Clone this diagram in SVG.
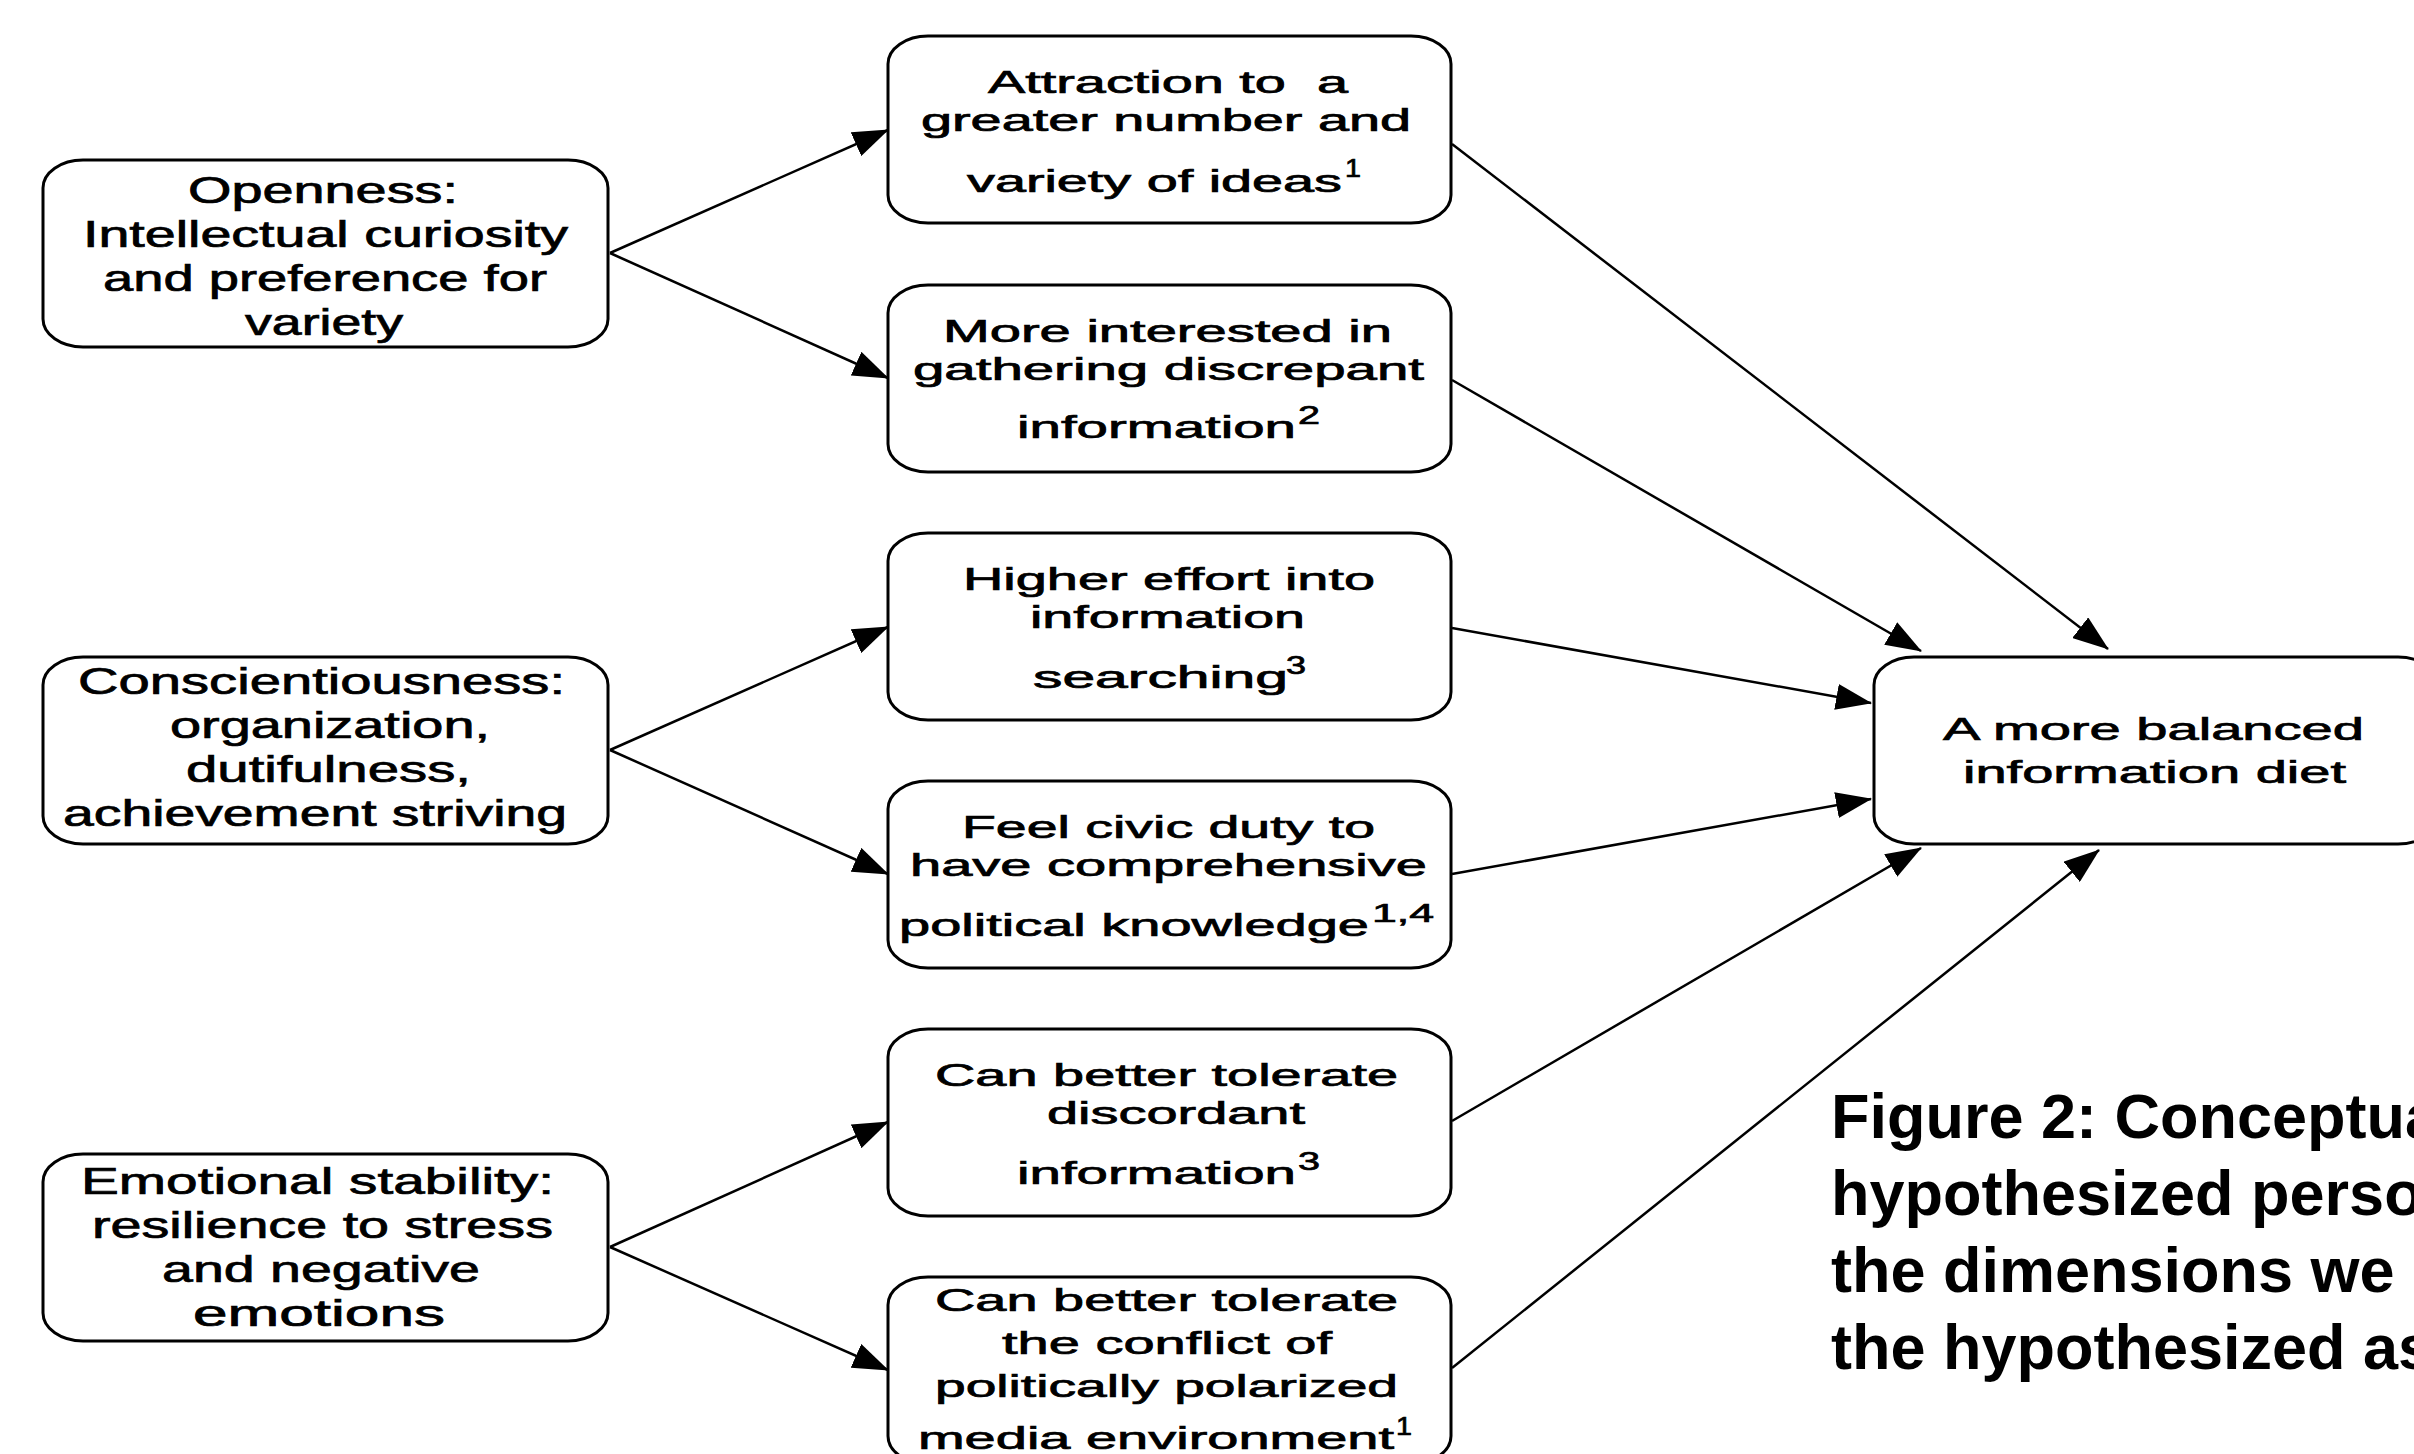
<svg xmlns="http://www.w3.org/2000/svg" width="2414" height="1454" viewBox="0 0 2414 1454">
<style>
.box{fill:#fff;stroke:#000;stroke-width:3}
.t{font-family:"Liberation Sans",Arial,Helvetica,sans-serif;fill:#000;stroke:#000;stroke-width:0.7px}
.l{font-size:36px}
.m{font-size:31px}
.s{font-size:25px}
.cap{font-family:"Liberation Sans",Arial,Helvetica,sans-serif;font-weight:bold;font-size:63px;fill:#000}
.edge{stroke:#000;stroke-width:2.5;fill:none;marker-end:url(#ah)}
</style>
<defs>
<marker id="ah" markerUnits="userSpaceOnUse" markerWidth="36" markerHeight="26" refX="35" refY="13" orient="auto">
<path d="M0,0 L36,13 L0,26 z" fill="#000"/>
</marker>
</defs>
<rect width="2414" height="1454" fill="#fff"/>

<g id="openness">
<rect class="box" x="43" y="160" width="565" height="187" rx="40" ry="28"/>
<text class="t l" x="188" y="203" textLength="270" lengthAdjust="spacingAndGlyphs">Openness:</text>
<text class="t l" x="83" y="247" textLength="485" lengthAdjust="spacingAndGlyphs">Intellectual curiosity</text>
<text class="t l" x="103" y="291" textLength="444" lengthAdjust="spacingAndGlyphs">and preference for</text>
<text class="t l" x="245" y="335" textLength="158" lengthAdjust="spacingAndGlyphs">variety</text>
</g>

<g id="conscientiousness">
<rect class="box" x="43" y="657" width="565" height="187" rx="40" ry="28"/>
<text class="t l" x="78" y="694" textLength="487" lengthAdjust="spacingAndGlyphs">Conscientiousness:</text>
<text class="t l" x="170" y="738" textLength="320" lengthAdjust="spacingAndGlyphs">organization,</text>
<text class="t l" x="186" y="782" textLength="285" lengthAdjust="spacingAndGlyphs">dutifulness,</text>
<text class="t l" x="63" y="826" textLength="504" lengthAdjust="spacingAndGlyphs">achievement striving</text>
</g>

<g id="emotional">
<rect class="box" x="43" y="1154" width="565" height="187" rx="40" ry="28"/>
<text class="t l" x="81" y="1194" textLength="473" lengthAdjust="spacingAndGlyphs">Emotional stability:</text>
<text class="t l" x="92" y="1238" textLength="461" lengthAdjust="spacingAndGlyphs">resilience to stress</text>
<text class="t l" x="162" y="1282" textLength="318" lengthAdjust="spacingAndGlyphs">and negative</text>
<text class="t l" x="193" y="1326" textLength="252" lengthAdjust="spacingAndGlyphs">emotions</text>
</g>

<g id="attraction">
<rect class="box" x="888" y="36" width="563" height="187" rx="40" ry="28"/>
<text class="t m" x="988" y="93" textLength="360" lengthAdjust="spacingAndGlyphs" xml:space="preserve">Attraction to  a</text>
<text class="t m" x="921" y="131" textLength="490" lengthAdjust="spacingAndGlyphs">greater number and</text>
<text class="t m" x="967" y="192" textLength="375" lengthAdjust="spacingAndGlyphs">variety of ideas</text>
<text class="t s" x="1345" y="177" textLength="16" lengthAdjust="spacingAndGlyphs">1</text>
</g>

<g id="discrepant">
<rect class="box" x="888" y="285" width="563" height="187" rx="40" ry="28"/>
<text class="t m" x="943" y="342" textLength="449" lengthAdjust="spacingAndGlyphs">More interested in</text>
<text class="t m" x="913" y="380" textLength="511" lengthAdjust="spacingAndGlyphs">gathering discrepant</text>
<text class="t m" x="1017" y="438" textLength="279" lengthAdjust="spacingAndGlyphs">information</text>
<text class="t s" x="1298" y="424" textLength="22" lengthAdjust="spacingAndGlyphs">2</text>
</g>

<g id="effort">
<rect class="box" x="888" y="533" width="563" height="187" rx="40" ry="28"/>
<text class="t m" x="963" y="590" textLength="412" lengthAdjust="spacingAndGlyphs">Higher effort into</text>
<text class="t m" x="1030" y="628" textLength="275" lengthAdjust="spacingAndGlyphs">information</text>
<text class="t m" x="1033" y="688" textLength="255" lengthAdjust="spacingAndGlyphs">searching</text>
<text class="t s" x="1286" y="674" textLength="20" lengthAdjust="spacingAndGlyphs">3</text>
</g>

<g id="civic">
<rect class="box" x="888" y="781" width="563" height="187" rx="40" ry="28"/>
<text class="t m" x="962" y="838" textLength="413" lengthAdjust="spacingAndGlyphs">Feel civic duty to</text>
<text class="t m" x="910" y="876" textLength="517" lengthAdjust="spacingAndGlyphs">have comprehensive</text>
<text class="t m" x="899" y="936" textLength="470" lengthAdjust="spacingAndGlyphs">political knowledge</text>
<text class="t s" x="1372" y="922" textLength="62" lengthAdjust="spacingAndGlyphs">1,4</text>
</g>

<g id="discordant">
<rect class="box" x="888" y="1029" width="563" height="187" rx="40" ry="28"/>
<text class="t m" x="935" y="1086" textLength="463" lengthAdjust="spacingAndGlyphs">Can better tolerate</text>
<text class="t m" x="1047" y="1124" textLength="258" lengthAdjust="spacingAndGlyphs">discordant</text>
<text class="t m" x="1017" y="1184" textLength="279" lengthAdjust="spacingAndGlyphs">information</text>
<text class="t s" x="1298" y="1170" textLength="22" lengthAdjust="spacingAndGlyphs">3</text>
</g>

<g id="conflict">
<rect class="box" x="888" y="1277" width="563" height="187" rx="40" ry="28"/>
<text class="t m" x="935" y="1311" textLength="463" lengthAdjust="spacingAndGlyphs">Can better tolerate</text>
<text class="t m" x="1002" y="1354" textLength="330" lengthAdjust="spacingAndGlyphs">the conflict of</text>
<text class="t m" x="935" y="1397" textLength="463" lengthAdjust="spacingAndGlyphs">politically polarized</text>
<text class="t m" x="918" y="1449" textLength="476" lengthAdjust="spacingAndGlyphs">media environment</text>
<text class="t s" x="1396" y="1435" textLength="16" lengthAdjust="spacingAndGlyphs">1</text>
</g>

<g id="balanced">
<rect class="box" x="1874" y="657" width="564" height="187" rx="40" ry="28"/>
<text class="t m" x="1943" y="740" textLength="421" lengthAdjust="spacingAndGlyphs">A more balanced</text>
<text class="t m" x="1963" y="783" textLength="383" lengthAdjust="spacingAndGlyphs">information diet</text>
</g>

<g id="caption">
<text class="cap" x="1831" y="1138">Figure 2: Conceptua</text>
<text class="cap" x="1831" y="1215">hypothesized perso</text>
<text class="cap" x="1831" y="1292">the dimensions we</text>
<text class="cap" x="1831" y="1369">the hypothesized as</text>
</g>

<g id="connectors">
<line class="edge" x1="610" y1="253" x2="888" y2="130"/>
<line class="edge" x1="610" y1="253" x2="888" y2="378"/>
<line class="edge" x1="610" y1="750" x2="888" y2="627"/>
<line class="edge" x1="610" y1="750" x2="888" y2="874"/>
<line class="edge" x1="610" y1="1247" x2="888" y2="1122"/>
<line class="edge" x1="610" y1="1247" x2="888" y2="1370"/>
<line class="edge" x1="1452" y1="144" x2="2108" y2="649"/>
<line class="edge" x1="1452" y1="380" x2="1921" y2="651"/>
<line class="edge" x1="1452" y1="628" x2="1871" y2="703"/>
<line class="edge" x1="1452" y1="874" x2="1871" y2="799"/>
<line class="edge" x1="1452" y1="1121" x2="1921" y2="848"/>
<line class="edge" x1="1452" y1="1368" x2="2099" y2="850"/>
</g>
</svg>
